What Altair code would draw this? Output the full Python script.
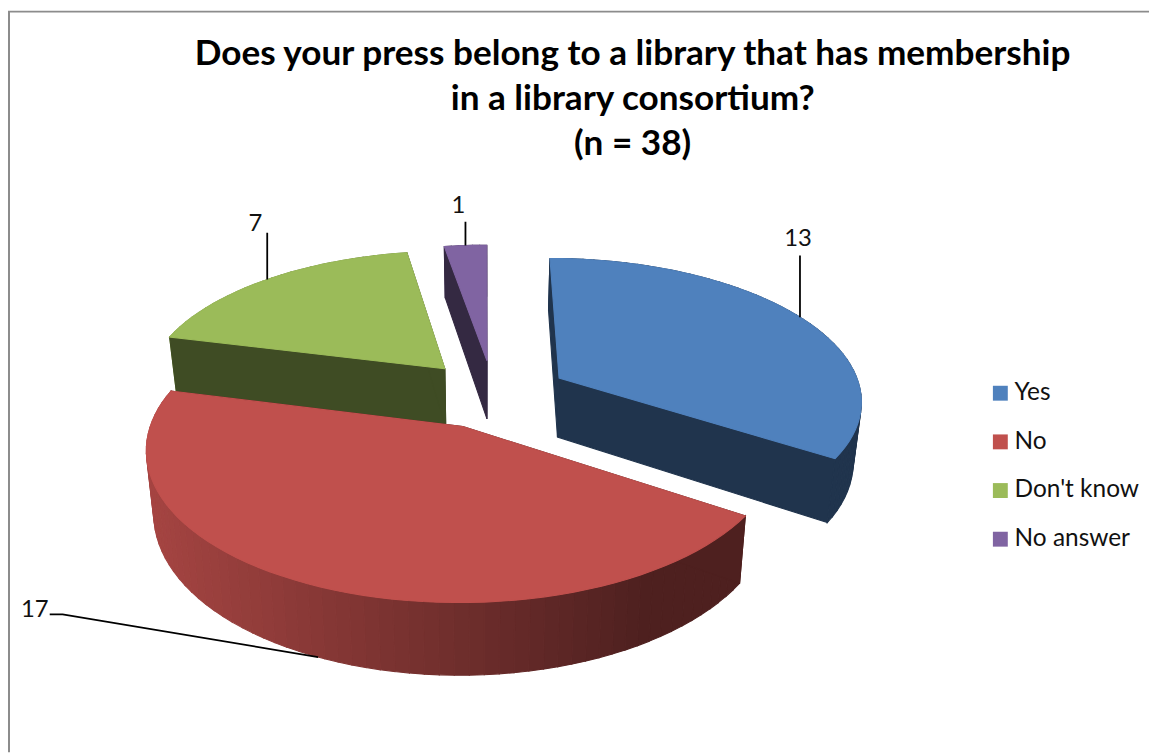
import math
import altair as alt
import pandas as pd

categories = ["Yes", "No", "Don't know", "No answer"]
values = [13, 17, 7, 1]
colors = ["#4f81bd", "#c0504d", "#9bbb59", "#8064a2"]
title_lines = ["Does your press belong to a library that has membership",
               "in a library consortium?", "(n = 38)"]

# pie geometry (perspective of the tilted 3D pie)
XC, HORIZON, DEPTH, A, K, WALL, CONV = 488, -605, 1000, 305, 0.142, 60.5, 0.022
explode = {"Yes": (0.25, 0.122), "No": (-0.07, -0.218),
           "Don't know": (-0.135, 0.19), "No answer": (0.008, 0.25)}
draw_order = ["No answer", "Don't know", "Yes", "No"]
total = sum(values)


def top(u, v):
    d = 1 + K * v
    return XC + A * u / d, HORIZON + DEPTH / d, d


def bottom(u, v):
    x, y, d = top(u, v)
    return XC + (x - XC) * (1 - CONV), y + WALL / d


def shade(hex_color, f):
    r, g, b = [int(hex_color[i:i + 2], 16) for i in (1, 3, 5)]
    return "#%02x%02x%02x" % (int(r * f), int(g * f), int(b * f))


def feat(ring, color):
    pts = [[round(p[0], 2), round(p[1], 2)] for p in ring]
    return {"type": "Feature", "properties": {"c": color},
            "geometry": {"type": "Polygon", "coordinates": [pts + [pts[0]]]}}


def line(pts):
    return {"type": "Feature", "properties": {},
            "geometry": {"type": "LineString",
                         "coordinates": [[round(a, 2), round(b, 2)] for a, b in pts]}}


spans, acc = {}, 0.0
for c, val in zip(categories, values):
    spans[c] = (acc, acc + val / total * 2 * math.pi)
    acc = spans[c][1]


def rim_uv(c, th):
    u0, v0 = explode[c]
    return u0 + math.sin(th), v0 + math.cos(th)


features = []
for c in draw_order:
    base = colors[categories.index(c)]
    a0, a1 = spans[c]
    u0, v0 = explode[c]
    n = max(6, int((a1 - a0) / math.radians(2.4)))
    ths = [a0 + (a1 - a0) * i / n for i in range(n + 1)]
    dark = shade(base, 0.41)
    for t0, t1 in zip(ths[:-1], ths[1:]):
        p, q = rim_uv(c, t0), rim_uv(c, t1)
        xm = (top(*p)[0] + top(*q)[0]) / 2
        f = 0.86 - 0.45 * min(1, max(0, (xm - 150) / 500))
        features.append(feat([top(*p)[:2], top(*q)[:2], bottom(*q), bottom(*p)], shade(base, f)))
    for th in (a0, a1):
        u, v = rim_uv(c, th)
        features.append(feat([top(u0, v0)[:2], top(u, v)[:2], bottom(u, v), bottom(u0, v0)], dark))
    ring = [top(u0, v0)[:2]] + [top(*rim_uv(c, th))[:2] for th in ths]
    features.append(feat(ring, base))

# leader lines and data labels, anchored on each slice's mid-angle
anchors = {}
for c in categories:
    mid = sum(spans[c]) / 2
    uv = rim_uv(c, mid)
    anchors[c] = bottom(*uv) if c == "No" else top(*uv)[:2]

leaders = []
labels = []
rises = {"Yes": 62, "Don't know": 47, "No answer": 24}
label_gap = {"Yes": (-2, -79), "Don't know": (-12, -56), "No answer": (-7, -40)}
for c, val in zip(categories, values):
    ax, ay = anchors[c]
    if c == "No":
        leaders.append(line([(ax, ay), (63, 616), (50, 616)]))
        labels.append({"t": str(val), "lx": 35 - 8, "ly": 612 - 8})
    else:
        leaders.append(line([(ax, ay), (ax, ay - rises[c])]))
        labels.append({"t": str(val), "lx": ax + label_gap[c][0] - 8, "ly": ay + label_gap[c][1] - 8})

frame = [line([(9, 755), (9, 9), (1157, 9)])]

proj = dict(type="identity", scale=1, translate=[-8, -8])


def collection(items):
    return alt.InlineData(values={"type": "FeatureCollection", "features": items},
                          format=alt.DataFormat(property="features", type="json"))


pie = alt.Chart(collection(features)).mark_geoshape(strokeWidth=1.1).encode(
    fill=alt.Fill("properties.c:N", scale=None, legend=None),
    stroke=alt.Stroke("properties.c:N", scale=None, legend=None),
).project(**proj)

leader_layer = alt.Chart(collection(leaders)).mark_geoshape(
    filled=False, stroke="#000000", strokeWidth=1.8).project(**proj)
frame_layer = alt.Chart(collection(frame)).mark_geoshape(
    filled=False, stroke="#8c8c8c", strokeWidth=2).project(**proj)

data_labels = alt.Chart(pd.DataFrame(labels)).mark_text(
    font="Lato", fontSize=24, color="#111111", align="center", baseline="middle"
).encode(
    x=alt.X("lx:Q", scale=None, axis=None),
    y=alt.Y("ly:Q", scale=None, axis=None),
    text="t:N",
)

title_df = pd.DataFrame({"t": title_lines, "row": range(len(title_lines))})
title = alt.Chart(title_df).mark_text(
    font="Lato", fontWeight="bold", fontSize=35.4, color="#000000", align="center", baseline="middle"
).transform_calculate(py="44 + datum.row * 45").encode(
    x=alt.value(629),
    y=alt.Y("py:Q", scale=None, axis=None),
    text="t:N",
)

legend_src = alt.Chart(pd.DataFrame({"cat": categories})).mark_square(size=0, filled=True).encode(
    x=alt.value(0),
    y=alt.value(0),
    color=alt.Color("cat:N", sort=categories,
                    scale=alt.Scale(domain=categories, range=colors),
                    legend=alt.Legend(title=None, orient="none", legendX=987, legendY=373,
                                      symbolType="square", symbolSize=225, symbolStrokeWidth=0,
                                      symbolOpacity=1,
                                      labelFont="Lato", labelFontSize=24.6, labelColor="#111111",
                                      labelOffset=2, rowPadding=24, labelLimit=300)),
)

chart = alt.layer(frame_layer, pie, leader_layer, data_labels, title, legend_src).properties(
    width=1149, height=747, padding=0, background="#ffffff"
).configure_view(stroke=None)

chart.save("out.html", embed_options={"renderer": "svg", "actions": False})
